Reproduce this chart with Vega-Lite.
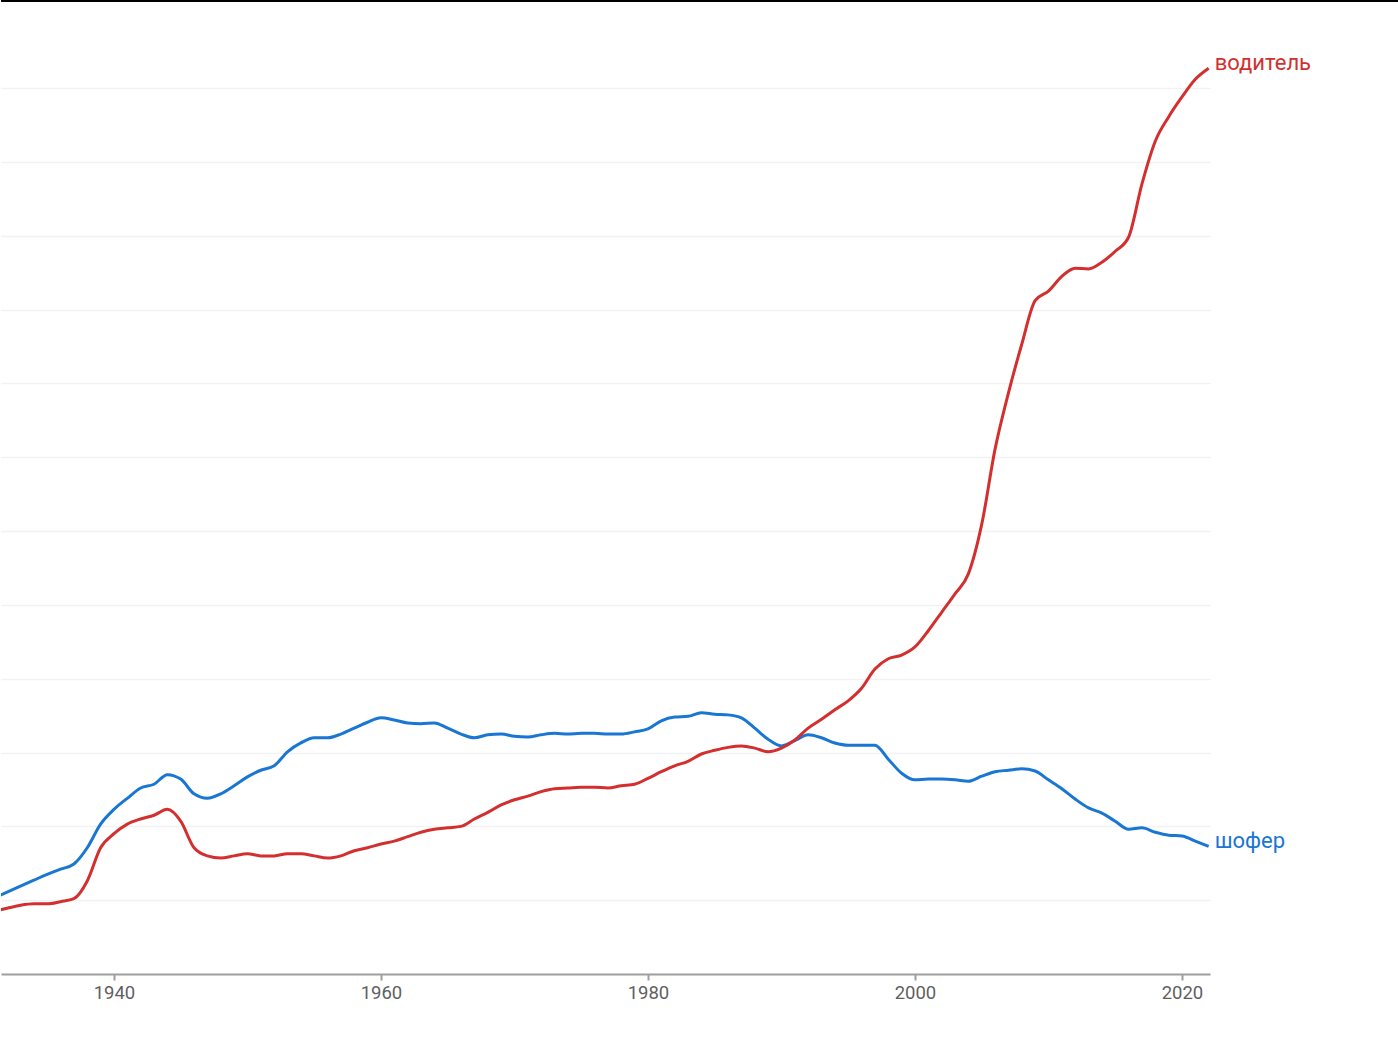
{
  "$schema": "https://vega.github.io/schema/vega-lite/v6.json",
  "width": 1209,
  "height": 973,
  "padding": 0,
  "background": "white",
  "config": {
    "view": {"stroke": null},
    "font": "Roboto"
  },
  "data": {
    "values": [
      {"year": 1931, "word": "шофер", "value": 1.03},
      {"year": 1932, "word": "шофер", "value": 1.11},
      {"year": 1933, "word": "шофер", "value": 1.19},
      {"year": 1934, "word": "шофер", "value": 1.27},
      {"year": 1935, "word": "шофер", "value": 1.35},
      {"year": 1936, "word": "шофер", "value": 1.42},
      {"year": 1937, "word": "шофер", "value": 1.49},
      {"year": 1938, "word": "шофер", "value": 1.71},
      {"year": 1939, "word": "шофер", "value": 2.03},
      {"year": 1940, "word": "шофер", "value": 2.23},
      {"year": 1941, "word": "шофер", "value": 2.38},
      {"year": 1942, "word": "шофер", "value": 2.52},
      {"year": 1943, "word": "шофер", "value": 2.57},
      {"year": 1944, "word": "шофер", "value": 2.7},
      {"year": 1945, "word": "шофер", "value": 2.64},
      {"year": 1946, "word": "шофер", "value": 2.44},
      {"year": 1947, "word": "шофер", "value": 2.38},
      {"year": 1948, "word": "шофер", "value": 2.44},
      {"year": 1949, "word": "шофер", "value": 2.55},
      {"year": 1950, "word": "шофер", "value": 2.67},
      {"year": 1951, "word": "шофер", "value": 2.76},
      {"year": 1952, "word": "шофер", "value": 2.82},
      {"year": 1953, "word": "шофер", "value": 3.01},
      {"year": 1954, "word": "шофер", "value": 3.13},
      {"year": 1955, "word": "шофер", "value": 3.2},
      {"year": 1956, "word": "шофер", "value": 3.2},
      {"year": 1957, "word": "шофер", "value": 3.25},
      {"year": 1958, "word": "шофер", "value": 3.33},
      {"year": 1959, "word": "шофер", "value": 3.41},
      {"year": 1960, "word": "шофер", "value": 3.47},
      {"year": 1961, "word": "шофер", "value": 3.44},
      {"year": 1962, "word": "шофер", "value": 3.4},
      {"year": 1963, "word": "шофер", "value": 3.39},
      {"year": 1964, "word": "шофер", "value": 3.4},
      {"year": 1965, "word": "шофер", "value": 3.33},
      {"year": 1966, "word": "шофер", "value": 3.25},
      {"year": 1967, "word": "шофер", "value": 3.2},
      {"year": 1968, "word": "шофер", "value": 3.24},
      {"year": 1969, "word": "шофер", "value": 3.25},
      {"year": 1970, "word": "шофер", "value": 3.22},
      {"year": 1971, "word": "шофер", "value": 3.21},
      {"year": 1972, "word": "шофер", "value": 3.24},
      {"year": 1973, "word": "шофер", "value": 3.26},
      {"year": 1974, "word": "шофер", "value": 3.25},
      {"year": 1975, "word": "шофер", "value": 3.26},
      {"year": 1976, "word": "шофер", "value": 3.26},
      {"year": 1977, "word": "шофер", "value": 3.25},
      {"year": 1978, "word": "шофер", "value": 3.25},
      {"year": 1979, "word": "шофер", "value": 3.28},
      {"year": 1980, "word": "шофер", "value": 3.32},
      {"year": 1981, "word": "шофер", "value": 3.43},
      {"year": 1982, "word": "шофер", "value": 3.48},
      {"year": 1983, "word": "шофер", "value": 3.49},
      {"year": 1984, "word": "шофер", "value": 3.54},
      {"year": 1985, "word": "шофер", "value": 3.52},
      {"year": 1986, "word": "шофер", "value": 3.51},
      {"year": 1987, "word": "шофер", "value": 3.47},
      {"year": 1988, "word": "шофер", "value": 3.33},
      {"year": 1989, "word": "шофер", "value": 3.18},
      {"year": 1990, "word": "шофер", "value": 3.09},
      {"year": 1991, "word": "шофер", "value": 3.16},
      {"year": 1992, "word": "шофер", "value": 3.24},
      {"year": 1993, "word": "шофер", "value": 3.2},
      {"year": 1994, "word": "шофер", "value": 3.13},
      {"year": 1995, "word": "шофер", "value": 3.1},
      {"year": 1996, "word": "шофер", "value": 3.1},
      {"year": 1997, "word": "шофер", "value": 3.1},
      {"year": 1998, "word": "шофер", "value": 2.91},
      {"year": 1999, "word": "шофер", "value": 2.72},
      {"year": 2000, "word": "шофер", "value": 2.63},
      {"year": 2001, "word": "шофер", "value": 2.64},
      {"year": 2002, "word": "шофер", "value": 2.64},
      {"year": 2003, "word": "шофер", "value": 2.63},
      {"year": 2004, "word": "шофер", "value": 2.61},
      {"year": 2005, "word": "шофер", "value": 2.68},
      {"year": 2006, "word": "шофер", "value": 2.74},
      {"year": 2007, "word": "шофер", "value": 2.76},
      {"year": 2008, "word": "шофер", "value": 2.78},
      {"year": 2009, "word": "шофер", "value": 2.75},
      {"year": 2010, "word": "шофер", "value": 2.63},
      {"year": 2011, "word": "шофер", "value": 2.51},
      {"year": 2012, "word": "шофер", "value": 2.37},
      {"year": 2013, "word": "шофер", "value": 2.25},
      {"year": 2014, "word": "шофер", "value": 2.18},
      {"year": 2015, "word": "шофер", "value": 2.07},
      {"year": 2016, "word": "шофер", "value": 1.96},
      {"year": 2017, "word": "шофер", "value": 1.98},
      {"year": 2018, "word": "шофер", "value": 1.92},
      {"year": 2019, "word": "шофер", "value": 1.88},
      {"year": 2020, "word": "шофер", "value": 1.87},
      {"year": 2021, "word": "шофер", "value": 1.8},
      {"year": 2022, "word": "шофер", "value": 1.73},
      {"year": 1931, "word": "водитель", "value": 0.85},
      {"year": 1932, "word": "водитель", "value": 0.89},
      {"year": 1933, "word": "водитель", "value": 0.93},
      {"year": 1934, "word": "водитель", "value": 0.95},
      {"year": 1935, "word": "водитель", "value": 0.95},
      {"year": 1936, "word": "водитель", "value": 0.98},
      {"year": 1937, "word": "водитель", "value": 1.02},
      {"year": 1938, "word": "водитель", "value": 1.26},
      {"year": 1939, "word": "водитель", "value": 1.71},
      {"year": 1940, "word": "водитель", "value": 1.9},
      {"year": 1941, "word": "водитель", "value": 2.03},
      {"year": 1942, "word": "водитель", "value": 2.1},
      {"year": 1943, "word": "водитель", "value": 2.15},
      {"year": 1944, "word": "водитель", "value": 2.23},
      {"year": 1945, "word": "водитель", "value": 2.07},
      {"year": 1946, "word": "водитель", "value": 1.71},
      {"year": 1947, "word": "водитель", "value": 1.6},
      {"year": 1948, "word": "водитель", "value": 1.57},
      {"year": 1949, "word": "водитель", "value": 1.6},
      {"year": 1950, "word": "водитель", "value": 1.63},
      {"year": 1951, "word": "водитель", "value": 1.6},
      {"year": 1952, "word": "водитель", "value": 1.6},
      {"year": 1953, "word": "водитель", "value": 1.63},
      {"year": 1954, "word": "водитель", "value": 1.63},
      {"year": 1955, "word": "водитель", "value": 1.6},
      {"year": 1956, "word": "водитель", "value": 1.57},
      {"year": 1957, "word": "водитель", "value": 1.6},
      {"year": 1958, "word": "водитель", "value": 1.67},
      {"year": 1959, "word": "водитель", "value": 1.71},
      {"year": 1960, "word": "водитель", "value": 1.76},
      {"year": 1961, "word": "водитель", "value": 1.8},
      {"year": 1962, "word": "водитель", "value": 1.86},
      {"year": 1963, "word": "водитель", "value": 1.92},
      {"year": 1964, "word": "водитель", "value": 1.96},
      {"year": 1965, "word": "водитель", "value": 1.98},
      {"year": 1966, "word": "водитель", "value": 2.0},
      {"year": 1967, "word": "водитель", "value": 2.1},
      {"year": 1968, "word": "водитель", "value": 2.19},
      {"year": 1969, "word": "водитель", "value": 2.29},
      {"year": 1970, "word": "водитель", "value": 2.36},
      {"year": 1971, "word": "водитель", "value": 2.41},
      {"year": 1972, "word": "водитель", "value": 2.47},
      {"year": 1973, "word": "водитель", "value": 2.51},
      {"year": 1974, "word": "водитель", "value": 2.52},
      {"year": 1975, "word": "водитель", "value": 2.53},
      {"year": 1976, "word": "водитель", "value": 2.53},
      {"year": 1977, "word": "водитель", "value": 2.52},
      {"year": 1978, "word": "водитель", "value": 2.55},
      {"year": 1979, "word": "водитель", "value": 2.57},
      {"year": 1980, "word": "водитель", "value": 2.65},
      {"year": 1981, "word": "водитель", "value": 2.74},
      {"year": 1982, "word": "водитель", "value": 2.82},
      {"year": 1983, "word": "водитель", "value": 2.88},
      {"year": 1984, "word": "водитель", "value": 2.98},
      {"year": 1985, "word": "водитель", "value": 3.03},
      {"year": 1986, "word": "водитель", "value": 3.07},
      {"year": 1987, "word": "водитель", "value": 3.09},
      {"year": 1988, "word": "водитель", "value": 3.06},
      {"year": 1989, "word": "водитель", "value": 3.01},
      {"year": 1990, "word": "водитель", "value": 3.06},
      {"year": 1991, "word": "водитель", "value": 3.17},
      {"year": 1992, "word": "водитель", "value": 3.33},
      {"year": 1993, "word": "водитель", "value": 3.45},
      {"year": 1994, "word": "водитель", "value": 3.58},
      {"year": 1995, "word": "водитель", "value": 3.7},
      {"year": 1996, "word": "водитель", "value": 3.87},
      {"year": 1997, "word": "водитель", "value": 4.13},
      {"year": 1998, "word": "водитель", "value": 4.27},
      {"year": 1999, "word": "водитель", "value": 4.32},
      {"year": 2000, "word": "водитель", "value": 4.43},
      {"year": 2001, "word": "водитель", "value": 4.65},
      {"year": 2002, "word": "водитель", "value": 4.9},
      {"year": 2003, "word": "водитель", "value": 5.15},
      {"year": 2004, "word": "водитель", "value": 5.42},
      {"year": 2005, "word": "водитель", "value": 6.09},
      {"year": 2006, "word": "водитель", "value": 7.11},
      {"year": 2007, "word": "водитель", "value": 7.87},
      {"year": 2008, "word": "водитель", "value": 8.53},
      {"year": 2009, "word": "водитель", "value": 9.12},
      {"year": 2010, "word": "водитель", "value": 9.25},
      {"year": 2011, "word": "водитель", "value": 9.45},
      {"year": 2012, "word": "водитель", "value": 9.56},
      {"year": 2013, "word": "водитель", "value": 9.55},
      {"year": 2014, "word": "водитель", "value": 9.64},
      {"year": 2015, "word": "водитель", "value": 9.79},
      {"year": 2016, "word": "водитель", "value": 9.98},
      {"year": 2017, "word": "водитель", "value": 10.7},
      {"year": 2018, "word": "водитель", "value": 11.28},
      {"year": 2019, "word": "водитель", "value": 11.61},
      {"year": 2020, "word": "водитель", "value": 11.88},
      {"year": 2021, "word": "водитель", "value": 12.12},
      {"year": 2022, "word": "водитель", "value": 12.27}
    ]
  },
  "encoding": {
    "x": {
      "field": "year",
      "type": "quantitative",
      "scale": {"domain": [1931.54, 2022.1], "nice": false, "zero": false},
      "axis": {
        "values": [1940, 1960, 1980, 2000, 2020],
        "format": "d",
        "title": null,
        "grid": false,
        "domainColor": "#9e9e9e",
        "domainWidth": 2,
        "tickColor": "#9e9e9e",
        "tickWidth": 2,
        "tickSize": 6,
        "labelColor": "#5f5f5f",
        "labelFontSize": 18.5,
        "labelPadding": 3,
        "labelFont": "Roboto"
      }
    },
    "y": {
      "field": "value",
      "type": "quantitative",
      "scale": {"domain": [0, 13.18], "nice": false},
      "axis": {
        "values": [1, 2, 3, 4, 5, 6, 7, 8, 9, 10, 11, 12],
        "title": null,
        "labels": false,
        "ticks": false,
        "domain": false,
        "grid": true,
        "gridColor": "#f2f2f2",
        "gridWidth": 1.5,
        "minExtent": 0
      }
    },
    "color": {
      "field": "word",
      "type": "nominal",
      "scale": {"domain": ["водитель", "шофер"], "range": ["#d32f2f", "#1976d2"]},
      "legend": null
    }
  },
  "layer": [
    {
      "mark": {"type": "line", "interpolate": "monotone", "strokeWidth": 3, "clip": true}
    },
    {
      "transform": [{"filter": "datum.year == 2022"}],
      "mark": {"type": "text", "align": "left", "baseline": "middle", "dx": 6, "dy": -5, "fontSize": 22, "font": "Roboto"},
      "encoding": {"text": {"field": "word"}}
    },
    {
      "mark": {"type": "rule", "color": "black", "strokeWidth": 2, "clip": false},
      "encoding": {
        "y": {"datum": 13.18},
        "x": {"datum": 1931.54},
        "x2": {"datum": 2036.3},
        "color": null
      }
    }
  ]
}
